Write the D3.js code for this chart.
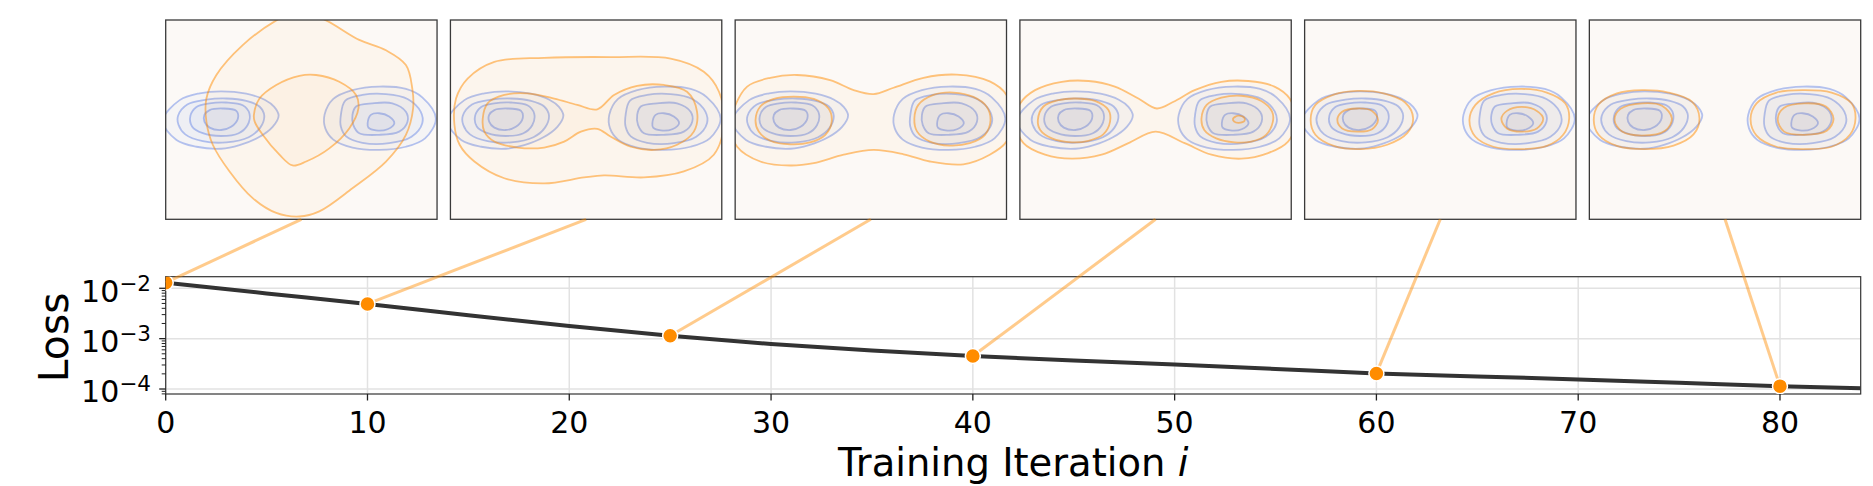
<!DOCTYPE html>
<html><head><meta charset="utf-8">
<script src="https://cdn.jsdelivr.net/npm/d3@7"></script>
<style>body{margin:0;background:#fff} svg{display:block} text{font-family:"DejaVu Sans",sans-serif;fill:#000}</style>
</head><body><svg id="c" width="1873" height="486"></svg>
<script>
// ---- loss curve data ----
const iterations = [0,5,10,15,20,25,30,35,40,45,50,55,60,65,70,75,80,84];
const lossValues = [0.0129,0.0079,0.00488,0.0029,0.00178,0.00114,0.00078,0.00058,0.000451,0.000367,0.000308,0.000251,0.000204,0.000178,0.000155,0.000133,0.000114,0.000103];
const snapshotIters = [0,10,25,40,60,80];
const snapshotLoss = [0.0129,0.00488,0.00114,0.000451,0.000204,0.000114];
const xTicks = [0,10,20,30,40,50,60,70,80];
const yTicks = [1e-2,1e-3,1e-4];
const yTickExponents = ["\u22122","\u22123","\u22124"];

// ---- target density contours (same in every snapshot) ----
const targetContours = [
 [[-3.47,-0.03],[-3.05,0.49],[-2.55,0.66],[-2.01,0.71],[-1.38,0.65],[-0.92,0.50],[-0.68,0.32],[-0.57,0.10],[-0.72,-0.18],[-1.08,-0.45],[-1.55,-0.64],[-2.01,-0.73],[-2.63,-0.68],[-3.13,-0.51]],
 [[-3.09,0.10],[-2.86,0.38],[-2.38,0.50],[-1.88,0.53],[-1.38,0.47],[-1.05,0.33],[-0.93,0.10],[-1.03,-0.20],[-1.32,-0.44],[-1.88,-0.57],[-2.47,-0.54],[-2.91,-0.37],[-3.08,-0.13]],
 [[-2.78,0.10],[-2.63,0.32],[-2.30,0.41],[-1.88,0.43],[-1.47,0.36],[-1.30,0.15],[-1.35,-0.14],[-1.57,-0.34],[-2.01,-0.41],[-2.47,-0.34],[-2.74,-0.17]],
 [[-2.43,0.12],[-2.30,0.24],[-1.97,0.28],[-1.63,0.22],[-1.59,0.03],[-1.76,-0.18],[-2.01,-0.26],[-2.30,-0.20],[-2.43,-0.05]],
 [[0.58,0.12],[0.80,0.52],[1.28,0.74],[1.95,0.83],[2.62,0.77],[3.03,0.56],[3.37,0.03],[3.10,-0.47],[2.62,-0.68],[1.95,-0.76],[1.28,-0.70],[0.80,-0.50],[0.60,-0.22]],
 [[0.99,0.12],[1.10,0.48],[1.53,0.62],[2.12,0.64],[2.66,0.52],[2.99,0.20],[3.03,-0.09],[2.76,-0.43],[2.20,-0.59],[1.53,-0.58],[1.12,-0.42],[0.99,-0.18]],
 [[1.28,0.12],[1.37,0.33],[1.78,0.41],[2.28,0.41],[2.62,0.20],[2.66,-0.05],[2.45,-0.30],[1.95,-0.38],[1.45,-0.34],[1.30,-0.13]],
 [[1.66,-0.09],[1.74,0.12],[1.95,0.16],[2.20,0.08],[2.33,-0.09],[2.16,-0.24],[1.87,-0.27],[1.68,-0.20]]
];

// ---- model density contours, one list per snapshot ----
const modelContours0 = [
 [[-0.63,2.49],[-0.05,2.75],[0.62,2.49],[1.45,2.00],[2.12,1.74],[2.62,1.37],[2.78,0.78],[2.80,0.28],[2.62,-0.38],[2.12,-1.05],[1.28,-1.72],[0.45,-2.30],[-0.05,-2.43],[-0.63,-2.34],[-1.22,-1.97],[-1.80,-1.30],[-2.22,-0.63],[-2.38,-0.05],[-2.38,0.53],[-2.13,1.12],[-1.47,1.87]],
 [[-1.19,0.12],[-1.05,0.53],[-0.63,0.87],[-0.05,1.10],[0.37,1.12],[0.95,0.95],[1.37,0.62],[1.43,0.28],[1.20,-0.22],[0.70,-0.72],[0.12,-1.05],[-0.22,-1.15],[-0.55,-0.88],[-0.97,-0.38],[-1.17,-0.05]]
];
const modelContours10 = [
 [[-3.30,-0.13],[-3.26,0.53],[-2.97,1.03],[-2.30,1.45],[-1.05,1.55],[0.62,1.57],[2.12,1.53],[2.95,1.20],[3.33,0.70],[3.45,-0.13],[3.20,-0.88],[2.45,-1.30],[1.45,-1.45],[0.45,-1.40],[-0.05,-1.45],[-1.05,-1.60],[-2.05,-1.47],[-2.80,-1.05],[-3.17,-0.63]],
 [[-2.59,0.03],[-2.47,0.41],[-2.05,0.62],[-1.47,0.66],[-0.80,0.53],[-0.22,0.37],[0.28,0.26],[0.70,0.62],[1.28,0.85],[1.95,0.87],[2.53,0.70],[2.78,0.20],[2.70,-0.30],[2.28,-0.63],[1.70,-0.76],[1.12,-0.68],[0.62,-0.43],[0.28,-0.23],[-0.13,-0.30],[-0.55,-0.55],[-1.05,-0.70],[-1.72,-0.70],[-2.30,-0.55],[-2.55,-0.30]]
];
const modelContours25 = [
 [[-3.52,-0.13],[-3.43,0.28],[-3.10,0.83],[-2.52,1.05],[-1.85,1.12],[-1.02,0.99],[-0.43,0.74],[0.07,0.64],[0.57,0.80],[1.32,1.05],[2.15,1.13],[2.98,0.96],[3.40,0.62],[3.52,0.03],[3.40,-0.55],[2.98,-0.88],[2.32,-1.12],[1.48,-1.05],[0.82,-0.87],[0.07,-0.76],[-0.68,-0.88],[-1.43,-1.09],[-2.02,-1.15],[-2.77,-1.05],[-3.35,-0.68]],
 [[-2.89,-0.01],[-2.77,0.33],[-2.43,0.52],[-1.93,0.58],[-1.43,0.52],[-1.06,0.28],[-0.98,-0.05],[-1.14,-0.38],[-1.52,-0.57],[-2.02,-0.62],[-2.52,-0.53],[-2.81,-0.30]],
 [[1.09,0.03],[1.19,0.37],[1.57,0.62],[2.07,0.68],[2.57,0.57],[2.90,0.33],[3.00,-0.01],[2.86,-0.38],[2.48,-0.59],[1.98,-0.65],[1.48,-0.55],[1.16,-0.30]]
];
const modelContours40 = [
 [[-3.52,-0.05],[-3.39,0.41],[-3.02,0.74],[-2.35,0.95],[-1.68,0.97],[-1.02,0.83],[-0.43,0.53],[0.03,0.28],[0.45,0.45],[0.98,0.74],[1.65,0.95],[2.32,0.97],[2.98,0.83],[3.36,0.53],[3.52,-0.05],[3.32,-0.55],[2.82,-0.84],[2.15,-0.98],[1.40,-0.88],[0.73,-0.59],[0.00,-0.30],[-0.68,-0.59],[-1.35,-0.88],[-2.10,-0.98],[-2.77,-0.88],[-3.31,-0.59]],
 [[-2.95,-0.01],[-2.81,0.33],[-2.43,0.49],[-2.02,0.53],[-1.52,0.47],[-1.18,0.24],[-1.14,-0.05],[-1.31,-0.37],[-1.68,-0.53],[-2.10,-0.57],[-2.60,-0.47],[-2.89,-0.26]],
 [[1.15,0.03],[1.28,0.37],[1.65,0.55],[2.15,0.60],[2.65,0.47],[2.92,0.20],[2.94,-0.05],[2.77,-0.38],[2.40,-0.55],[1.98,-0.57],[1.52,-0.47],[1.22,-0.26]],
 [[1.94,0.02],[2.07,0.10],[2.22,0.05],[2.23,-0.03],[2.08,-0.08],[1.97,-0.05]]
];
const modelContours60 = [
 [[-3.25,-0.01],[-3.13,0.37],[-2.67,0.63],[-2.08,0.72],[-1.42,0.66],[-0.88,0.43],[-0.68,0.03],[-0.83,-0.34],[-1.33,-0.63],[-2.00,-0.74],[-2.67,-0.66],[-3.13,-0.38]],
 [[-2.58,-0.01],[-2.46,0.20],[-2.08,0.28],[-1.71,0.22],[-1.56,-0.01],[-1.71,-0.24],[-2.08,-0.30],[-2.46,-0.22]],
 [[0.73,-0.01],[0.88,0.37],[1.33,0.66],[2.00,0.77],[2.67,0.68],[3.13,0.41],[3.23,0.03],[3.08,-0.38],[2.67,-0.66],[2.00,-0.74],[1.33,-0.68],[0.88,-0.43]],
 [[1.53,0.02],[1.67,0.22],[2.04,0.32],[2.42,0.22],[2.58,0.02],[2.42,-0.22],[2.04,-0.30],[1.67,-0.22]]
];
const modelContours80 = [
 [[-3.29,-0.01],[-3.17,0.38],[-2.71,0.66],[-2.08,0.74],[-1.42,0.68],[-0.83,0.45],[-0.64,0.03],[-0.79,-0.37],[-1.29,-0.65],[-2.00,-0.74],[-2.71,-0.66],[-3.17,-0.38]],
 [[-2.77,-0.01],[-2.62,0.27],[-2.08,0.41],[-1.58,0.35],[-1.33,0.03],[-1.50,-0.28],[-2.08,-0.40],[-2.58,-0.30]],
 [[0.64,0.02],[0.79,0.41],[1.29,0.68],[1.96,0.74],[2.67,0.68],[3.17,0.41],[3.27,0.03],[3.13,-0.38],[2.67,-0.68],[1.96,-0.74],[1.29,-0.68],[0.79,-0.40]],
 [[1.32,0.02],[1.48,0.30],[1.98,0.41],[2.53,0.33],[2.72,0.02],[2.55,-0.28],[1.98,-0.38],[1.48,-0.30]]
];
const modelContours = [modelContours0, modelContours10, modelContours25, modelContours40, modelContours60, modelContours80];

// ---- drawing ----
const svg = d3.select("#c");
const plotLeft = 165.7, plotRight = 1860.7, plotTop = 276.7, plotBottom = 394;
const x = d3.scaleLinear().domain([0, 84]).range([plotLeft, plotRight]);
const y = d3.scaleLog().domain([7.96e-5, 0.01698]).range([plotBottom, plotTop]);

const defs = svg.append("defs");
defs.append("clipPath").attr("id", "plotClip").append("rect")
  .attr("x", plotLeft).attr("y", plotTop).attr("width", plotRight - plotLeft).attr("height", plotBottom - plotTop);

// snapshot panels
const panelTop = 20, panelBottom = 219.3;
const band = d3.scaleBand().domain(snapshotIters).range([plotLeft, plotRight]).paddingInner(0.047).paddingOuter(0);
const blue = "rgb(65,105,225)", orange = "rgb(255,140,0)";

snapshotIters.forEach((it, k) => {
  const x0 = band(it), w = band.bandwidth();
  const px = d3.scaleLinear().domain([-3.4, 3.4]).range([x0, x0 + w]);
  const py = d3.scaleLinear().domain([-2.5, 2.5]).range([panelBottom, panelTop]);
  const id = "pc" + k;
  defs.append("clipPath").attr("id", id).append("rect")
    .attr("x", x0).attr("y", panelTop).attr("width", w).attr("height", panelBottom - panelTop);
  const g = svg.append("g");
  g.append("rect").attr("x", x0).attr("y", panelTop).attr("width", w).attr("height", panelBottom - panelTop)
    .attr("fill", "#fcf9f6");
  const cg = g.append("g").attr("clip-path", `url(#${id})`);
  const line = d3.line().x(d => px(d[0])).y(d => py(d[1])).curve(d3.curveCatmullRomClosed.alpha(0.5));
  cg.selectAll("path.t").data(targetContours).join("path").attr("class", "t")
    .attr("d", line).attr("fill", blue).attr("fill-opacity", 0.035)
    .attr("stroke", blue).attr("stroke-opacity", 0.38).attr("stroke-width", 1.8);
  cg.selectAll("path.m").data(modelContours[k]).join("path").attr("class", "m")
    .attr("d", line).attr("fill", orange).attr("fill-opacity", 0.035)
    .attr("stroke", orange).attr("stroke-opacity", 0.5).attr("stroke-width", 1.8);
  g.append("rect").attr("x", x0).attr("y", panelTop).attr("width", w).attr("height", panelBottom - panelTop)
    .attr("fill", "none").attr("stroke", "#3a3a3a").attr("stroke-width", 1.3);
});

// grid
const grid = svg.append("g");
grid.selectAll("line.gx").data(xTicks).join("line").attr("class", "gx")
  .attr("x1", d => x(d)).attr("x2", d => x(d)).attr("y1", plotTop).attr("y2", plotBottom)
  .attr("stroke", "#e2e2e2").attr("stroke-width", 1.5);
grid.selectAll("line.gy").data(yTicks).join("line").attr("class", "gy")
  .attr("x1", plotLeft).attr("x2", plotRight).attr("y1", d => y(d)).attr("y2", d => y(d))
  .attr("stroke", "#e2e2e2").attr("stroke-width", 1.5);

// frame
svg.append("rect").attr("x", plotLeft).attr("y", plotTop).attr("width", plotRight - plotLeft).attr("height", plotBottom - plotTop)
  .attr("fill", "none").attr("stroke", "#333").attr("stroke-width", 1.2);

// x ticks
const ax = svg.append("g");
ax.selectAll("line").data(xTicks).join("line")
  .attr("x1", d => x(d)).attr("x2", d => x(d)).attr("y1", plotBottom).attr("y2", plotBottom + 6.5)
  .attr("stroke", "#222").attr("stroke-width", 1.3);
ax.selectAll("text").data(xTicks).join("text")
  .attr("x", d => x(d)).attr("y", 433).attr("text-anchor", "middle").attr("font-size", 30).text(d => d);

// y ticks (major + minor)
const ay = svg.append("g");
const minor = y.ticks().filter(v => yTicks.every(t => Math.abs(v - t) / t > 1e-6));
ay.selectAll("line.mn").data(minor).join("line").attr("class", "mn")
  .attr("x1", plotLeft - 4).attr("x2", plotLeft).attr("y1", d => y(d)).attr("y2", d => y(d))
  .attr("stroke", "#222").attr("stroke-width", 1);
ay.selectAll("line.mj").data(yTicks).join("line").attr("class", "mj")
  .attr("x1", plotLeft - 6.5).attr("x2", plotLeft).attr("y1", d => y(d)).attr("y2", d => y(d))
  .attr("stroke", "#222").attr("stroke-width", 1.3);
const yl = ay.selectAll("text").data(yTicks).join("text")
  .attr("x", 151).attr("y", d => y(d) + 13.4).attr("text-anchor", "end").attr("font-size", 30);
yl.append("tspan").text("10");
yl.append("tspan").attr("dy", -11).attr("font-size", 21.5).text((d, i) => yTickExponents[i]);

// axis titles
svg.append("text").attr("transform", `translate(68,${(plotTop + plotBottom) / 2 + 2}) rotate(-90)`)
  .attr("text-anchor", "middle").attr("font-size", 41).text("Loss");
const xt = svg.append("text").attr("x", (plotLeft + plotRight) / 2).attr("y", 476)
  .attr("text-anchor", "middle").attr("font-size", 38.5);
xt.append("tspan").text("Training Iteration ");
xt.append("tspan").attr("font-style", "italic").text("i");

// connectors from snapshot points to panels
svg.append("g").selectAll("line").data(snapshotIters).join("line")
  .attr("x1", (d, i) => x(d)).attr("y1", (d, i) => y(snapshotLoss[i]))
  .attr("x2", d => band(d) + band.bandwidth() / 2).attr("y2", panelBottom)
  .attr("stroke", orange).attr("stroke-opacity", 0.45).attr("stroke-width", 3);

// loss curve and markers
const pg = svg.append("g").attr("clip-path", "url(#plotClip)");
pg.append("path").datum(iterations.map((it, i) => [it, lossValues[i]]))
  .attr("d", d3.line().x(d => x(d[0])).y(d => y(d[1])).curve(d3.curveMonotoneX))
  .attr("fill", "none").attr("stroke", "#333").attr("stroke-width", 4);
pg.selectAll("circle").data(snapshotIters).join("circle")
  .attr("cx", d => x(d)).attr("cy", (d, i) => y(snapshotLoss[i])).attr("r", 7.5)
  .attr("fill", "#ff8c00").attr("stroke", "#fff").attr("stroke-width", 1.5);
</script></body></html>
